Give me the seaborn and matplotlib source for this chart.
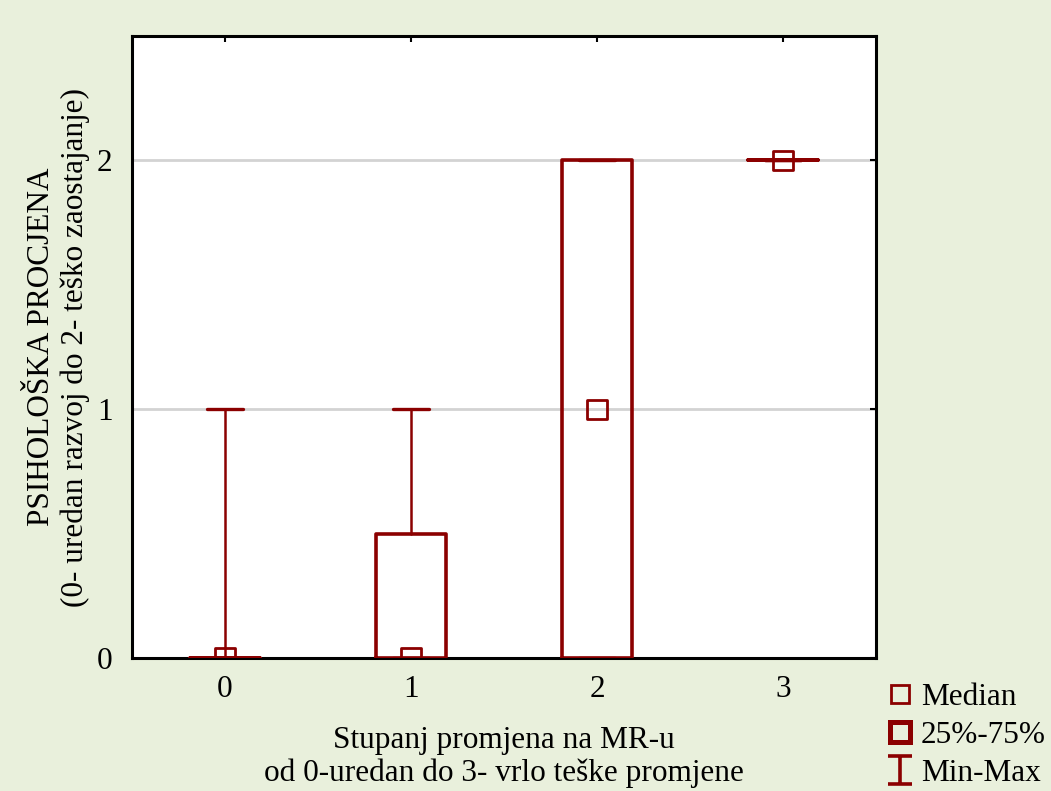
import matplotlib
matplotlib.use("Agg")
import matplotlib.pyplot as plt
import seaborn as sns
import pandas as pd
import numpy as np
from matplotlib.path import Path
from matplotlib.lines import Line2D

# ---- data ----
categories = ["0", "1", "2", "3"]
mins = [0, 0, 0, 2]
q1s = [0, 0, 0, 2]
medians = [0, 0, 1, 2]
q3s = [0, 0.5, 2, 2]
maxs = [1, 1, 2, 2]
y_ticks = [0, 1, 2]
xlabel = "Stupanj promjena na MR-u\nod 0-uredan do 3- vrlo teške promjene"
ylabel = "PSIHOLOŠKA PROCJENA\n(0- uredan razvoj do 2- teško zaostajanje)"
legend_labels = ["Median", "25%-75%", "Min-Max"]

RED = "#8B0000"
BG = "#E9F0DC"
FS = 22.5

sns.set_theme(style="white")
plt.rcParams["font.family"] = ["Liberation Serif", "DejaVu Serif"]

fig = plt.figure(figsize=(10.51, 7.91), dpi=100, facecolor=BG)
ax = fig.add_axes([0.1256, 0.1681, 0.7079, 0.7864])
ax.set_facecolor("white")

stats = []
for c, lo, a, m, b, hi in zip(categories, mins, q1s, medians, q3s, maxs):
    stats.append(dict(label=c, whislo=lo, q1=a, med=m, q3=b, whishi=hi, fliers=[]))

pos = np.arange(len(categories))
ax.bxp(stats, positions=pos, widths=0.38, showfliers=False,
       boxprops=dict(color=RED, linewidth=2.6),
       whiskerprops=dict(color=RED, linewidth=1.8),
       capprops=dict(color=RED, linewidth=2.4),
       medianprops=dict(linewidth=0),
       capwidths=0.19, zorder=3)

df = pd.DataFrame({"x": pos, "median": medians})
sns.scatterplot(data=df, x="x", y="median", marker="s", s=190,
                facecolor="none", edgecolor=RED, linewidth=2.0, ax=ax, zorder=4, legend=False)

ax.set_xlim(-0.5, 3.5)
ax.set_ylim(0, 2.5)
ax.set_xticks(pos)
ax.set_xticklabels(categories)
ax.set_yticks(y_ticks)
ax.set_yticklabels([str(t) for t in y_ticks])
ax.tick_params(direction="in", length=4, width=1.5, color="black",
               top=True, right=True, labelsize=FS, pad=12, labelcolor="black")
ax.tick_params(axis="y", pad=14)
for t in y_ticks[1:]:
    ax.axhline(t, color="#D3D3D3", linewidth=2, zorder=0)
for s in ax.spines.values():
    s.set_visible(True)
    s.set_color("black")
    s.set_linewidth(2.2)
ax.set_xlabel(xlabel, fontsize=FS, color="black", labelpad=16, linespacing=1.15)
ax.set_ylabel(ylabel, fontsize=FS, color="black", labelpad=5, linespacing=1.2)

# legend
ibeam = Path([(-0.42, 0.5), (0.42, 0.5), (0, 0.5), (0, -0.5), (-0.42, -0.5), (0.42, -0.5)],
             [Path.MOVETO, Path.LINETO, Path.MOVETO, Path.LINETO, Path.MOVETO, Path.LINETO])
handles = [
    Line2D([], [], linestyle="none", marker="s", markersize=13, markerfacecolor="none",
           markeredgecolor=RED, markeredgewidth=2.0),
    Line2D([], [], linestyle="none", marker="s", markersize=14.5, markerfacecolor="none",
           markeredgecolor=RED, markeredgewidth=3.6),
    Line2D([], [], linestyle="none", marker=ibeam, markersize=20, markerfacecolor="none",
           markeredgecolor=RED, markeredgewidth=2.6),
]
fig.legend(handles, legend_labels, loc="lower left", bbox_to_anchor=(0.824, -0.02),
           frameon=False, fontsize=FS, handlelength=1.0, handletextpad=0.15,
           labelspacing=0.29, borderaxespad=0.2, labelcolor="black")

fig.savefig("out.png", dpi=100, facecolor=BG)
